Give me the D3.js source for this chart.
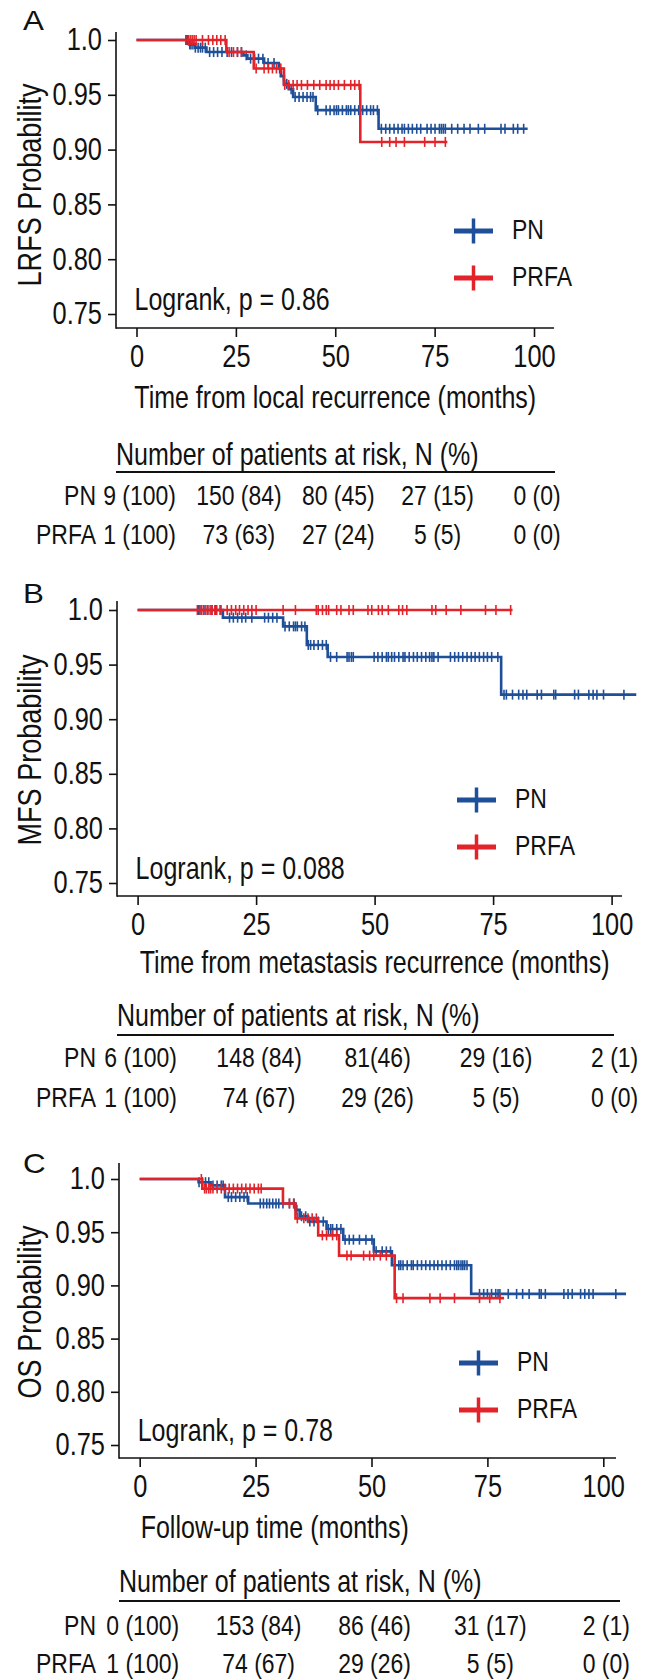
<!DOCTYPE html>
<meta charset="utf-8">
<script src="https://d3js.org/d3.v7.min.js"></script>
<style>
body { margin: 0; background: #fff; }
text { font-family: "Liberation Sans", Arial, Helvetica, sans-serif; fill: #111; }
</style>
<div id="plot"></div>
<script>
var colorPN = "#1e4f98", colorPRFA = "#e3232a";
var xTicks = [0, 25, 50, 75, 100];
var yTicks = [0.75, 0.80, 0.85, 0.90, 0.95, 1.0];
var groups = ["PN", "PRFA"];

// A: local recurrence free survival  [month, survival after the event]
var lrfsPNSteps = [[0,1],[13.2,0.996],[14.8,0.993],[17.6,0.989],[26.9,0.986],[27.9,0.983],[32.1,0.979],[35.8,0.974],[36.3,0.967],[37.1,0.960],[38.3,0.955],[39.4,0.948],[45.1,0.936],[60.9,0.919]];
var lrfsPNEnd = 98.4;
var lrfsPNCensor = [12.6,12.9,13.4,13.7,14.2,14.8,15.5,16.1,16.6,17.3,18.4,19.4,20.4,21.5,22.8,23.9,25.4,26.4,27.6,28.7,29.7,30.7,31.8,33.1,34.6,36.0,37.0,37.8,38.9,39.9,40.9,41.9,42.9,43.8,44.4,45.6,47.7,48.7,49.7,50.3,50.8,51.8,52.8,53.3,53.9,54.9,55.9,56.9,57.9,58.9,59.6,60.6,61.6,62.7,63.7,64.8,65.8,66.8,67.4,68.4,69.4,70.5,71.5,73.1,74.1,75.1,76.2,76.7,77.2,77.7,79.3,80.8,82.4,83.9,86.0,87.6,91.7,92.7,94.8,95.9,97.4];
var lrfsPRFASteps = [[0,1],[22.6,0.989],[29.5,0.974],[37.1,0.959],[56.3,0.907]];
var lrfsPRFAEnd = 78.2;
var lrfsPRFACensor = [12.4,13.0,13.5,14.0,14.5,15.0,16.6,18.1,19.2,20.2,21.2,22.3,23.3,24.4,25.4,26.4,30.1,32.1,33.2,34.2,35.2,36.3,37.3,38.3,39.4,40.4,41.5,43.0,44.6,46.1,47.7,48.7,49.7,50.8,52.3,53.9,54.9,56.0,61.7,63.7,65.3,67.4,72.5,75.1,77.7];
var lrfsRiskPN = ["9 (100)", "150 (84)", "80 (45)", "27 (15)", "0 (0)"];
var lrfsRiskPRFA = ["1 (100)", "73 (63)", "27 (24)", "5 (5)", "0 (0)"];

// B: metastasis free survival
var mfsPNSteps = [[0,1],[18.0,0.993],[30.7,0.985],[35.7,0.968],[40.1,0.957],[76.7,0.9225]];
var mfsPNEnd = 105.2;
var mfsPNCensor = [12.9,13.4,14.0,14.8,15.7,16.5,17.4,19.4,20.2,21.1,22.0,22.8,24.1,26.8,27.6,28.5,29.4,31.1,32.0,32.9,33.3,33.7,34.6,35.3,36.0,36.5,37.2,38.1,39.0,39.8,40.7,42.0,44.2,44.6,45.1,45.5,49.9,50.7,51.6,52.5,52.9,53.6,54.2,55.1,56.0,56.4,57.3,58.2,59.0,59.9,60.8,61.6,62.1,62.5,63.4,66.0,66.9,67.7,68.6,69.5,70.4,71.2,72.1,73.0,73.8,74.7,76.0,77.3,77.8,79.1,80.4,81.3,82.1,84.3,85.2,87.8,88.2,92.2,93.0,95.2,96.1,96.9,98.3,102.6];
var mfsPRFASteps = [[0,1]];
var mfsPRFAEnd = 79.1;
var mfsPRFACensor = [12.6,13.1,13.5,13.9,14.4,14.8,15.3,15.7,16.3,16.7,17.6,18.9,19.8,20.7,21.5,22.4,23.3,24.1,25.0,30.7,33.3,37.7,38.1,39.0,39.8,40.3,42.0,42.9,44.6,45.5,48.6,49.4,50.8,51.6,52.9,55.1,55.9,56.8,62.1,62.9,65.1,68.2,73.4,75.6,78.7];
var mfsRiskPN = ["6 (100)", "148 (84)", "81(46)", "29 (16)", "2 (1)"];
var mfsRiskPRFA = ["1 (100)", "74 (67)", "29 (26)", "5 (5)", "0 (0)"];

// C: overall survival
var osPNSteps = [[0,1],[12.7,0.997],[15.3,0.994],[18.4,0.983],[23.4,0.977],[33.6,0.971],[34.5,0.965],[36.3,0.960],[40.3,0.953],[43.9,0.943],[50.5,0.932],[54.4,0.919],[71.5,0.892]];
var osPNEnd = 104.9;
var osPNCensor = [12.8,13.5,14.2,14.9,15.8,16.7,17.6,18.0,19.1,19.8,20.7,21.6,22.5,23.2,26.0,26.7,27.4,28.0,28.7,29.4,30.0,30.9,32.3,33.3,33.9,34.9,35.8,36.7,37.6,38.5,39.6,40.7,41.2,41.6,42.5,43.4,44.3,45.2,46.1,47.4,48.8,50.1,51.0,52.3,53.2,54.1,55.0,55.9,56.3,56.8,57.7,58.6,59.0,59.9,60.8,61.7,62.6,63.5,64.3,65.2,66.1,67.0,67.9,68.4,68.8,69.3,69.7,70.1,70.6,73.3,74.2,75.0,75.9,76.8,77.3,77.7,79.5,81.3,82.6,84.0,86.2,86.6,87.5,91.5,92.4,93.3,95.1,96.0,96.9,97.8,102.7];
var osPRFASteps = [[0,1],[13.5,0.991],[30.9,0.977],[33.6,0.963],[38.5,0.947],[43.0,0.928],[55.0,0.888]];
var osPRFAEnd = 78.6;
var osPRFACensor = [13.3,14.0,14.4,14.9,15.3,15.8,16.7,17.6,18.4,19.3,20.2,21.1,22.0,22.9,23.8,24.7,25.6,26.2,32.3,33.2,34.0,35.4,36.3,37.2,38.1,39.4,40.3,41.6,42.5,44.7,45.6,48.3,49.6,50.5,51.9,53.2,55.4,56.8,62.6,64.8,67.9,73.3,75.5,77.7];
var osRiskPN = ["0 (100)", "153 (84)", "86 (46)", "31 (17)", "2 (1)"];
var osRiskPRFA = ["1 (100)", "74 (67)", "29 (26)", "5 (5)", "0 (0)"];

var panels = [
  {letter: "A", ylab: "LRFS Probability", xlab: "Time from local recurrence (months)", centerX: true, p: "Logrank, p = 0.86",
   pn: {steps: lrfsPNSteps, end: lrfsPNEnd, censor: lrfsPNCensor}, prfa: {steps: lrfsPRFASteps, end: lrfsPRFAEnd, censor: lrfsPRFACensor},
   risk: [lrfsRiskPN, lrfsRiskPRFA],
   L: {ax: 116, top: 32, xAxisY: 328, xEnd: 554, x0: 136.5, x100: 534, y1: 40, y75: 314, yLabMid: 185, letterY: 30,
       xLabY: 408, titleY: 465, ruleY: 472, ruleX2: 555, rowY: [505, 544], legX: 454, legY: 231}},
  {letter: "B", ylab: "MFS Probability", xlab: "Time from metastasis recurrence (months)", centerX: true, p: "Logrank, p = 0.088",
   pn: {steps: mfsPNSteps, end: mfsPNEnd, censor: mfsPNCensor}, prfa: {steps: mfsPRFASteps, end: mfsPRFAEnd, censor: mfsPRFACensor},
   risk: [mfsRiskPN, mfsRiskPRFA],
   L: {ax: 117, top: 601, xAxisY: 896, xEnd: 622, x0: 137.6, x100: 611.6, y1: 610, y75: 883, yLabMid: 750, letterY: 603,
       xLabY: 973, titleY: 1026, ruleY: 1035, ruleX2: 614, rowY: [1067, 1107], legX: 457, legY: 800}},
  {letter: "C", ylab: "OS Probability", xlab: "Follow-up time (months)", centerX: false, p: "Logrank, p = 0.78",
   pn: {steps: osPNSteps, end: osPNEnd, censor: osPNCensor}, prfa: {steps: osPRFASteps, end: osPRFAEnd, censor: osPRFACensor},
   risk: [osRiskPN, osRiskPRFA],
   L: {ax: 119, top: 1163, xAxisY: 1458, xEnd: 616, x0: 139.7, x100: 603.3, y1: 1179, y75: 1445, yLabMid: 1312, letterY: 1173,
       xLabY: 1538, titleY: 1592, ruleY: 1601, ruleX2: 620, rowY: [1635, 1673], legX: 459, legY: 1363}}
];

var NARROW = 0.82;

function survAt(steps, t) {
  var s = steps[0][1];
  steps.forEach(function(d) { if (d[0] <= t) s = d[1]; });
  return s;
}

// condensed text, the figure uses a narrow grotesque
function ntext(sel, x, y, size, str, anchor, rot) {
  return sel.append("text")
    .attr("transform", "translate(" + x + "," + y + ")" + (rot ? " rotate(-90)" : "") + " scale(" + NARROW + ",1)")
    .attr("text-anchor", anchor || "start")
    .attr("font-size", size)
    .text(str);
}

var svg = d3.select("#plot").append("svg")
  .attr("width", 646)
  .attr("height", 1680);

panels.forEach(function(P) {
  var L = P.L;
  var x = d3.scaleLinear().domain([0, 100]).range([L.x0, L.x100]);
  var y = d3.scaleLinear().domain([0.75, 1]).range([L.y75, L.y1]);
  var g = svg.append("g");

  g.append("text")
    .attr("transform", "translate(23," + L.letterY + ") scale(1.12,1)")
    .attr("font-size", 28).text(P.letter);

  var ya = g.append("g")
    .attr("transform", "translate(" + L.ax + ",0)")
    .call(d3.axisLeft(y).tickValues(yTicks).tickSize(8)
      .tickFormat(function(d) { return d === 1 ? "1.0" : d.toFixed(2); }));
  ya.select(".domain").remove();
  ya.attr("font-size", 31).attr("font-family", null).attr("color", "#111");
  ya.selectAll("line").attr("stroke-width", 1.6);
  ya.selectAll("text").attr("x", -14 / NARROW).attr("transform", "scale(" + NARROW + ",1)");

  var xa = g.append("g")
    .attr("transform", "translate(0," + L.xAxisY + ")")
    .call(d3.axisBottom(x).tickValues(xTicks).tickSize(9));
  xa.select(".domain").remove();
  xa.attr("font-size", 31).attr("font-family", null).attr("color", "#111");
  xa.selectAll("line").attr("stroke-width", 1.6);
  xa.selectAll("text").attr("y", 39).attr("dy", 0).attr("transform", "scale(" + NARROW + ",1)");

  g.append("line").attr("x1", L.ax).attr("x2", L.ax).attr("y1", L.top).attr("y2", L.xAxisY + 0.8)
    .attr("stroke", "#111").attr("stroke-width", 1.6);
  g.append("line").attr("x1", L.ax).attr("x2", L.xEnd).attr("y1", L.xAxisY).attr("y2", L.xAxisY)
    .attr("stroke", "#111").attr("stroke-width", 1.6);

  // axis titles
  ntext(g, 41, L.yLabMid, 33, P.ylab, "middle", true);
  ntext(g, P.centerX ? (L.x0 + L.x100) / 2 : L.x0 + 1, L.xLabY, 30.5, P.xlab, P.centerX ? "middle" : "start");

  // curves
  [[P.pn, colorPN], [P.prfa, colorPRFA]].forEach(function(c) {
    var cur = c[0], col = c[1];
    var pts = cur.steps.concat([[cur.end, cur.steps[cur.steps.length - 1][1]]]);
    g.append("path").datum(pts)
      .attr("fill", "none").attr("stroke", col).attr("stroke-width", 2.6)
      .attr("d", d3.line().curve(d3.curveStepAfter)
        .x(function(d) { return x(d[0]); })
        .y(function(d) { return y(d[1]); }));
    g.selectAll(null).data(cur.censor).enter().append("line")
      .attr("x1", function(d) { return x(d); })
      .attr("x2", function(d) { return x(d); })
      .attr("y1", function(d) { return y(survAt(cur.steps, d)) - 5; })
      .attr("y2", function(d) { return y(survAt(cur.steps, d)) + 5; })
      .attr("stroke", col).attr("stroke-width", 1.6);
  });

  // p value
  ntext(g, L.x0 - 2, y(0.75) - 4, 30.5, P.p);

  // legend
  [colorPN, colorPRFA].forEach(function(col, i) {
    var ly = L.legY + i * 47;
    g.append("line").attr("x1", L.legX).attr("x2", L.legX + 39).attr("y1", ly).attr("y2", ly)
      .attr("stroke", col).attr("stroke-width", 5);
    g.append("line").attr("x1", L.legX + 19.5).attr("x2", L.legX + 19.5).attr("y1", ly - 12.5).attr("y2", ly + 12.5)
      .attr("stroke", col).attr("stroke-width", 3.5);
    ntext(g, L.legX + 58, ly + 8, 28, groups[i]);
  });

  // risk table
  ntext(g, L.ax, L.titleY, 30.5, "Number of patients at risk, N (%)");
  g.append("line").attr("x1", L.ax).attr("x2", L.ruleX2)
    .attr("y1", L.ruleY).attr("y2", L.ruleY)
    .attr("stroke", "#111").attr("stroke-width", 1.8);
  P.risk.forEach(function(row, i) {
    var ry = L.rowY[i];
    ntext(g, 96, ry, 28, groups[i], "end");
    row.forEach(function(v, j) {
      ntext(g, x(xTicks[j]) + 3, ry, 28, v, "middle");
    });
  });
});
</script>
